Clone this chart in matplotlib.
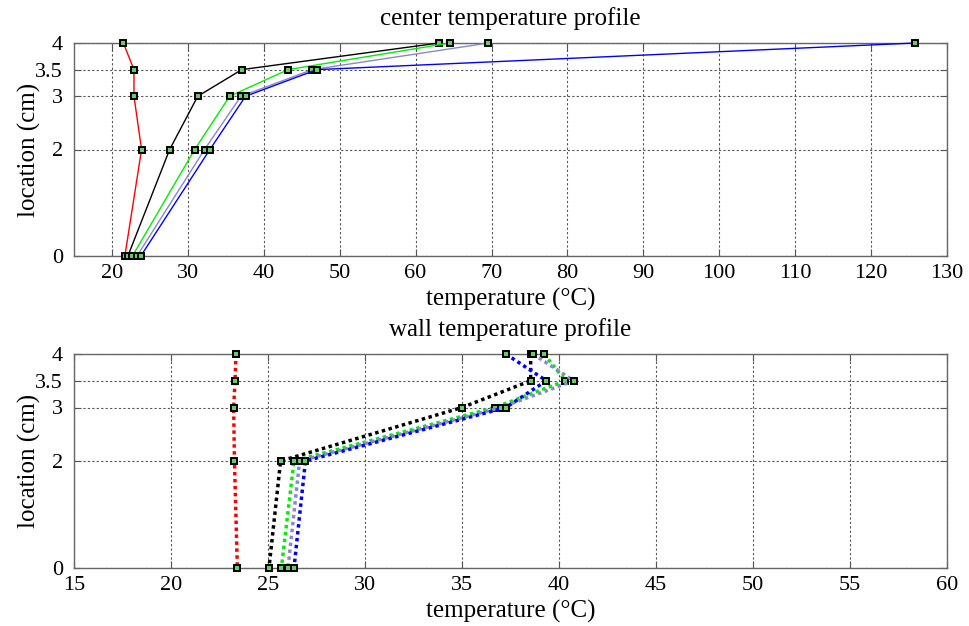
import matplotlib
matplotlib.use("Agg")
import matplotlib.pyplot as plt

plt.rcParams['font.family'] = ['Liberation Serif', 'DejaVu Serif']

locations = [4, 3.5, 3, 2, 0]

# center temperature profile (°C)
center_red = [21.5, 22.9, 22.9, 23.9, 21.7]
center_black = [63.1, 37.1, 31.3, 27.6, 22.1]
center_green = [64.5, 43.2, 35.5, 30.9, 22.7]
center_lightblue = [69.6, 46.4, 37.0, 32.2, 23.3]
center_blue = [125.8, 47.0, 37.6, 32.9, 23.8]

# wall temperature profile (°C)
wall_red = [23.35, 23.3, 23.23, 23.27, 23.42]
wall_black = [38.54, 38.54, 35.0, 25.65, 25.05]
wall_green = [39.23, 40.33, 36.7, 26.34, 25.69]
wall_lightblue = [38.66, 40.76, 37.0, 26.63, 26.03]
wall_blue = [37.26, 39.35, 37.26, 26.93, 26.34]

yticks = [0, 2, 3, 3.5, 4]
ytick_labels = ['0', '2', '3', '3.5', '4']
center_xticks = list(range(20, 131, 10))
wall_xticks = list(range(15, 61, 5))

colors = {'red': '#ff0000', 'black': '#000000', 'green': '#00ee00',
          'lightblue': '#8888cc', 'blue': '#0000ff'}

W, H = 969, 626
fig = plt.figure(figsize=(W / 100, H / 100), dpi=100)
ax1 = fig.add_axes([74 / W, 1 - 256 / H, (947 - 74) / W, (256 - 43) / H])
ax2 = fig.add_axes([74 / W, 1 - 568 / H, (947 - 74) / W, (568 - 354) / H])

mk = dict(marker='s', markersize=4.8, markerfacecolor='#66cc66',
          markeredgecolor='#000000', markeredgewidth=1.4)

center_series = [('red', center_red), ('black', center_black), ('green', center_green),
                 ('lightblue', center_lightblue), ('blue', center_blue)]
for name, vals in center_series:
    ax1.plot(vals, locations, color=colors[name], linewidth=1.0, **mk, zorder=3,
             clip_on=False)

wall_series = [('red', wall_red), ('black', wall_black), ('green', wall_green),
               ('lightblue', wall_lightblue), ('blue', wall_blue)]
for name, vals in wall_series:
    ax2.plot(vals, locations, color=colors[name], linewidth=2.5, linestyle=(0, (1, 1)),
             **mk, zorder=3, clip_on=False)

for ax, xt, xl, title in [(ax1, center_xticks, (15, 130), 'center temperature profile'),
                          (ax2, wall_xticks, (15, 60), 'wall temperature profile')]:
    ax.set_xlim(*xl)
    ax.set_ylim(0, 4)
    ax.set_xticks(xt)
    ax.set_yticks(yticks)
    ax.set_yticklabels(ytick_labels)
    ax.grid(True, linestyle=(0, (2, 2)), color='#555555', linewidth=0.8)
    ax.tick_params(direction='in', top=True, right=True,
                   color='#555555', length=5)
    ax.tick_params(axis='x', pad=6, labelsize=16)
    ax.tick_params(axis='y', pad=8, labelsize=16)
    for s in ax.spines.values():
        s.set_color('#666666')
        s.set_linewidth(1.0)
    ax.set_xlabel('temperature (°C)', fontsize=18, labelpad=3)
    ax.set_ylabel('location (cm)', fontsize=18, labelpad=-4)
    ax.set_title(title, fontsize=18, pad=13)

fig.savefig('out.png', dpi=100, facecolor='white')
